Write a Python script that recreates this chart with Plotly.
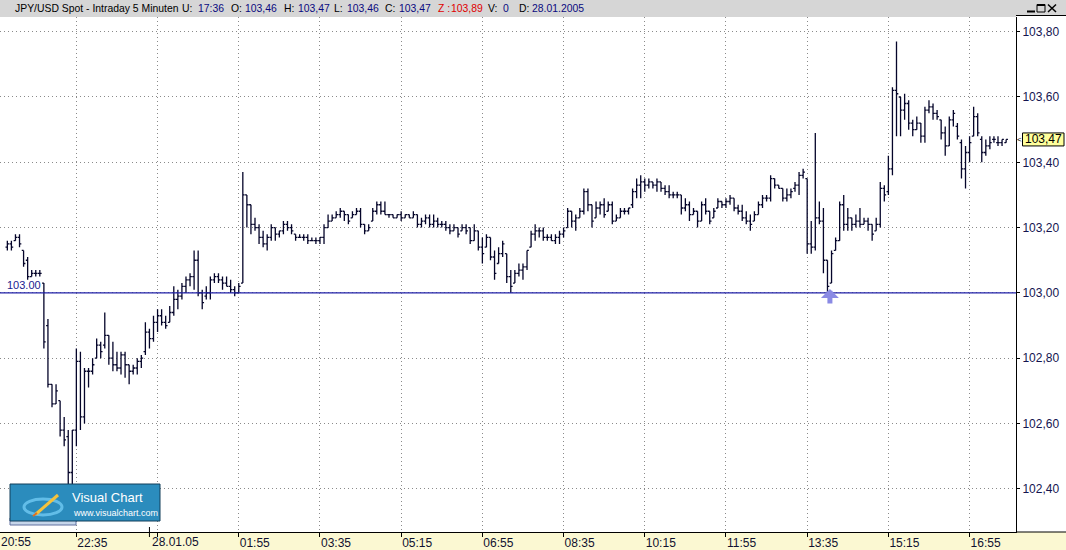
import plotly.graph_objects as go
import pandas as pd

# ---------------- data ----------------
open_ = [
    103.14, 103.15, 103.16, 103.17, 103.13, 103.10, 103.05, 103.06, 103.06, 103.03,
    102.90, 102.72, 102.66, 102.67, 102.58, 102.56, 102.45, 102.58, 102.79, 102.62,
    102.76, 102.76, 102.80, 102.84, 102.84, 102.87, 102.80, 102.78, 102.77, 102.81,
    102.78, 102.76, 102.77, 102.79, 102.82, 102.88, 102.86, 102.91, 102.93, 102.91,
    102.91, 102.94, 102.98, 102.99, 103.02, 103.04, 103.05, 103.10, 103.00, 102.99,
    103.00, 103.04, 103.05, 103.04, 103.03, 103.02, 103.01, 103.00, 103.03, 103.30,
    103.27, 103.21, 103.20, 103.17, 103.15, 103.17, 103.20, 103.18, 103.19, 103.21,
    103.20, 103.18, 103.17, 103.17, 103.17, 103.16, 103.16, 103.16, 103.17, 103.20,
    103.22, 103.23, 103.24, 103.25, 103.24, 103.23, 103.24, 103.25, 103.21, 103.19,
    103.22, 103.25, 103.27, 103.25, 103.24, 103.24, 103.23, 103.24, 103.23, 103.24,
    103.23, 103.24, 103.21, 103.22, 103.23, 103.21, 103.22, 103.21, 103.21, 103.20,
    103.19, 103.20, 103.19, 103.20, 103.20, 103.16, 103.19, 103.14, 103.14, 103.17,
    103.11, 103.09, 103.12, 103.12, 103.05, 103.03, 103.06, 103.07, 103.08, 103.14,
    103.18, 103.19, 103.19, 103.17, 103.17, 103.16, 103.17, 103.18, 103.20, 103.25,
    103.22, 103.23, 103.25, 103.31, 103.27, 103.23, 103.26, 103.27, 103.25, 103.27,
    103.22, 103.23, 103.25, 103.25, 103.27, 103.31, 103.33, 103.34, 103.33, 103.34,
    103.33, 103.34, 103.32, 103.31, 103.30, 103.30, 103.30, 103.26, 103.27, 103.24,
    103.25, 103.22, 103.27, 103.25, 103.23, 103.26, 103.28, 103.27, 103.28, 103.29,
    103.26, 103.25, 103.23, 103.22, 103.22, 103.24, 103.27, 103.29, 103.29, 103.35,
    103.33, 103.32, 103.29, 103.30, 103.32, 103.33, 103.36, 103.35, 103.15, 103.14,
    103.23, 103.22, 103.10, 103.03, 103.13, 103.16, 103.27, 103.21, 103.23, 103.21,
    103.22, 103.21, 103.22, 103.21, 103.19, 103.21, 103.32, 103.31, 103.38, 103.62,
    103.60, 103.56, 103.58, 103.52, 103.50, 103.52, 103.48, 103.56, 103.57, 103.55,
    103.53, 103.49, 103.45, 103.53, 103.51, 103.46, 103.38, 103.43, 103.48, 103.54,
    103.47, 103.43, 103.45, 103.47, 103.46, 103.46, 103.46,
]
high = [
    103.16, 103.16, 103.18, 103.18, 103.13, 103.11, 103.07, 103.07, 103.07, 103.03,
    102.92, 102.72, 102.72, 102.67, 102.62, 102.58, 102.58, 102.83, 102.82, 102.77,
    102.77, 102.80, 102.86, 102.85, 102.94, 102.87, 102.85, 102.82, 102.82, 102.82,
    102.78, 102.78, 102.80, 102.81, 102.91, 102.89, 102.93, 102.95, 102.95, 102.93,
    102.96, 103.02, 103.01, 103.03, 103.05, 103.06, 103.13, 103.13, 103.01, 103.02,
    103.05, 103.06, 103.06, 103.05, 103.05, 103.04, 103.02, 103.03, 103.37, 103.30,
    103.27, 103.23, 103.21, 103.19, 103.18, 103.21, 103.20, 103.19, 103.22, 103.22,
    103.21, 103.18, 103.18, 103.18, 103.18, 103.17, 103.17, 103.17, 103.21, 103.24,
    103.24, 103.25, 103.26, 103.25, 103.24, 103.25, 103.26, 103.26, 103.21, 103.21,
    103.26, 103.28, 103.28, 103.28, 103.24, 103.24, 103.24, 103.25, 103.24, 103.24,
    103.25, 103.24, 103.23, 103.24, 103.24, 103.24, 103.23, 103.22, 103.22, 103.21,
    103.21, 103.20, 103.21, 103.21, 103.20, 103.21, 103.19, 103.17, 103.18, 103.17,
    103.13, 103.14, 103.16, 103.12, 103.07, 103.07, 103.09, 103.09, 103.13, 103.19,
    103.21, 103.20, 103.20, 103.18, 103.18, 103.18, 103.19, 103.20, 103.26, 103.25,
    103.24, 103.26, 103.32, 103.32, 103.27, 103.28, 103.28, 103.29, 103.28, 103.28,
    103.24, 103.26, 103.26, 103.26, 103.32, 103.35, 103.36, 103.35, 103.35, 103.34,
    103.35, 103.34, 103.33, 103.33, 103.31, 103.31, 103.30, 103.29, 103.28, 103.26,
    103.25, 103.28, 103.29, 103.25, 103.26, 103.29, 103.28, 103.29, 103.30, 103.29,
    103.27, 103.27, 103.25, 103.24, 103.25, 103.28, 103.30, 103.30, 103.36, 103.35,
    103.33, 103.32, 103.32, 103.32, 103.34, 103.37, 103.38, 103.35, 103.22, 103.49,
    103.28, 103.26, 103.10, 103.13, 103.17, 103.28, 103.30, 103.26, 103.23, 103.24,
    103.26, 103.23, 103.23, 103.21, 103.23, 103.34, 103.33, 103.42, 103.63, 103.77,
    103.60, 103.61, 103.59, 103.53, 103.54, 103.52, 103.57, 103.59, 103.58, 103.56,
    103.53, 103.51, 103.54, 103.56, 103.52, 103.47, 103.45, 103.48, 103.57, 103.55,
    103.48, 103.47, 103.48, 103.48, 103.48, 103.47, 103.47,
]
low = [
    103.13, 103.13, 103.16, 103.14, 103.08, 103.04, 103.05, 103.05, 103.05, 102.83,
    102.71, 102.65, 102.66, 102.56, 102.53, 102.40, 102.38, 102.53, 102.58, 102.60,
    102.71, 102.75, 102.80, 102.80, 102.83, 102.78, 102.76, 102.76, 102.75, 102.74,
    102.72, 102.75, 102.75, 102.77, 102.81, 102.83, 102.85, 102.88, 102.90, 102.89,
    102.91, 102.93, 102.95, 102.98, 103.00, 103.02, 103.01, 102.99, 102.95, 102.98,
    102.98, 103.03, 103.03, 103.01, 103.02, 103.00, 102.99, 103.00, 103.03, 103.20,
    103.18, 103.19, 103.15, 103.14, 103.13, 103.16, 103.16, 103.17, 103.18, 103.19,
    103.18, 103.16, 103.17, 103.16, 103.15, 103.16, 103.15, 103.15, 103.15, 103.20,
    103.22, 103.23, 103.23, 103.22, 103.21, 103.23, 103.24, 103.20, 103.18, 103.19,
    103.22, 103.24, 103.24, 103.24, 103.23, 103.23, 103.23, 103.22, 103.23, 103.23,
    103.23, 103.20, 103.20, 103.21, 103.20, 103.20, 103.20, 103.20, 103.19, 103.18,
    103.19, 103.17, 103.19, 103.18, 103.15, 103.16, 103.13, 103.09, 103.14, 103.10,
    103.04, 103.09, 103.11, 103.03, 103.00, 103.03, 103.05, 103.04, 103.07, 103.14,
    103.16, 103.17, 103.16, 103.16, 103.16, 103.15, 103.15, 103.17, 103.20, 103.20,
    103.19, 103.23, 103.24, 103.25, 103.20, 103.23, 103.24, 103.23, 103.25, 103.21,
    103.22, 103.23, 103.24, 103.24, 103.26, 103.29, 103.29, 103.31, 103.32, 103.32,
    103.31, 103.31, 103.30, 103.29, 103.29, 103.29, 103.24, 103.25, 103.22, 103.24,
    103.20, 103.22, 103.24, 103.21, 103.23, 103.26, 103.26, 103.26, 103.27, 103.25,
    103.24, 103.22, 103.21, 103.19, 103.22, 103.24, 103.26, 103.28, 103.28, 103.32,
    103.32, 103.28, 103.28, 103.29, 103.31, 103.30, 103.35, 103.12, 103.12, 103.13,
    103.21, 103.06, 103.00, 103.03, 103.13, 103.16, 103.19, 103.19, 103.19, 103.20,
    103.20, 103.21, 103.19, 103.16, 103.19, 103.20, 103.28, 103.30, 103.36, 103.48,
    103.48, 103.53, 103.50, 103.48, 103.50, 103.46, 103.46, 103.55, 103.53, 103.53,
    103.47, 103.42, 103.45, 103.51, 103.47, 103.35, 103.32, 103.40, 103.48, 103.48,
    103.40, 103.42, 103.44, 103.46, 103.45, 103.45, 103.46,
]
close = [
    103.15, 103.14, 103.17, 103.15, 103.09, 103.05, 103.06, 103.06, 103.06, 102.85,
    102.72, 102.66, 102.70, 102.58, 102.55, 102.45, 102.58, 102.79, 102.62, 102.76,
    102.76, 102.78, 102.84, 102.82, 102.87, 102.80, 102.78, 102.77, 102.81, 102.78,
    102.76, 102.77, 102.79, 102.80, 102.88, 102.86, 102.91, 102.93, 102.91, 102.90,
    102.94, 102.98, 102.99, 103.02, 103.04, 103.05, 103.10, 103.00, 102.97, 103.00,
    103.04, 103.05, 103.04, 103.03, 103.02, 103.01, 103.00, 103.02, 103.30, 103.27,
    103.21, 103.20, 103.17, 103.15, 103.17, 103.20, 103.18, 103.19, 103.21, 103.20,
    103.19, 103.17, 103.17, 103.17, 103.16, 103.16, 103.16, 103.17, 103.20, 103.22,
    103.23, 103.24, 103.25, 103.24, 103.22, 103.24, 103.25, 103.21, 103.19, 103.20,
    103.25, 103.27, 103.25, 103.24, 103.24, 103.23, 103.24, 103.23, 103.24, 103.23,
    103.24, 103.21, 103.22, 103.23, 103.21, 103.22, 103.21, 103.21, 103.20, 103.19,
    103.20, 103.18, 103.20, 103.19, 103.16, 103.19, 103.14, 103.12, 103.17, 103.11,
    103.06, 103.12, 103.15, 103.05, 103.02, 103.06, 103.07, 103.08, 103.13, 103.18,
    103.19, 103.19, 103.17, 103.17, 103.16, 103.17, 103.18, 103.19, 103.25, 103.22,
    103.23, 103.25, 103.31, 103.27, 103.22, 103.26, 103.27, 103.24, 103.27, 103.22,
    103.23, 103.25, 103.25, 103.26, 103.31, 103.33, 103.34, 103.33, 103.34, 103.33,
    103.34, 103.32, 103.31, 103.30, 103.30, 103.30, 103.26, 103.27, 103.24, 103.25,
    103.22, 103.27, 103.25, 103.22, 103.25, 103.28, 103.27, 103.28, 103.29, 103.26,
    103.25, 103.23, 103.22, 103.21, 103.24, 103.27, 103.29, 103.29, 103.35, 103.33,
    103.32, 103.29, 103.30, 103.31, 103.33, 103.36, 103.37, 103.15, 103.14, 103.23,
    103.22, 103.10, 103.02, 103.12, 103.16, 103.27, 103.21, 103.23, 103.21, 103.22,
    103.21, 103.22, 103.21, 103.18, 103.21, 103.32, 103.30, 103.38, 103.62, 103.61,
    103.56, 103.58, 103.52, 103.50, 103.52, 103.48, 103.56, 103.57, 103.55, 103.54,
    103.49, 103.45, 103.53, 103.55, 103.48, 103.38, 103.43, 103.46, 103.54, 103.49,
    103.43, 103.45, 103.46, 103.47, 103.46, 103.47, 103.47,
]

first_bar = "2005-01-27 21:10"
bar_times = pd.date_range(first_bar, periods=len(close), freq="5min")

# time axis ticks
grid_times = ["2005-01-27 22:35", "2005-01-28 00:15", "2005-01-28 01:55",
              "2005-01-28 03:35", "2005-01-28 05:15", "2005-01-28 06:55",
              "2005-01-28 08:35", "2005-01-28 10:15", "2005-01-28 11:55",
              "2005-01-28 13:35", "2005-01-28 15:15", "2005-01-28 16:55"]
grid_labels = ["22:35", "", "01:55", "03:35", "05:15", "06:55", "08:35",
               "10:15", "11:55", "13:35", "15:15", "16:55"]
date_tick = "2005-01-28 00:05"
date_label = "28.01.05"
first_label = "20:55"

price_ticks = [102.40, 102.60, 102.80, 103.00, 103.20, 103.40, 103.60, 103.80]
ref_level = 103.00
signal_time = "2005-01-28 14:03"
signal_price = 103.012

header_name = "JPY/USD Spot - Intraday 5 Minuten"
header_time = "17:36"
header_z = "103,89"
header_v = "0"
header_date = "28.01.2005"

# ---------------- geometry ----------------
W, H = 1066, 550
ML, MR, MT, MB = 0, 50, 17, 18
PW = W - ML - MR
PH = H - MT - MB


def px(x):
    return (x - ML) / PW


def py(y):
    return (H - MB - y) / PH


FONT = "Liberation Sans, Arial, sans-serif"
BAR = "#05052a"
NAVY = "#0a0a80"
GRID = "#8a8a8a"

x_start = pd.Timestamp(first_bar) - pd.Timedelta(seconds=542)
x_end = pd.Timestamp(first_bar) + pd.Timedelta(seconds=74530)

fig = go.Figure()
fig.add_trace(go.Ohlc(
    x=bar_times, open=open_, high=high, low=low, close=close,
    increasing=dict(line=dict(color=BAR, width=1.3)),
    decreasing=dict(line=dict(color=BAR, width=1.3)),
    tickwidth=0.45, hoverinfo="skip", showlegend=False,
))

fmt = lambda v: f"{v:.2f}".replace(".", ",")

shapes = [
    # title bar
    dict(type="rect", xref="paper", yref="paper", x0=px(0), x1=px(W), y0=py(17), y1=py(0),
         fillcolor="#d6d6d6", line=dict(width=0), layer="below"),
    # right axis panel
    dict(type="rect", xref="paper", yref="paper", x0=px(1016), x1=px(W), y0=py(532), y1=py(15),
         fillcolor="white", line=dict(width=0), layer="below"),
    dict(type="line", xref="paper", yref="paper", x0=px(1016), x1=px(W), y0=py(15.5), y1=py(15.5),
         line=dict(color="black", width=1)),
    dict(type="line", xref="paper", yref="paper", x0=px(1016), x1=px(W), y0=py(532), y1=py(532),
         line=dict(color="black", width=1)),
    # reference level line
    dict(type="line", xref="paper", yref="y", x0=0, x1=1, y0=ref_level, y1=ref_level,
         line=dict(color="#2020a8", width=1.3)),
    # date tick
    dict(type="line", xref="x", yref="paper", x0=date_tick, x1=date_tick, y0=py(537), y1=py(527),
         line=dict(color="black", width=1)),
    # logo
    dict(type="rect", xref="paper", yref="paper", x0=px(10), x1=px(76), y0=py(525), y1=py(518),
         fillcolor="#c6d6ea", line=dict(color="#6070a0", width=1)),
    dict(type="rect", xref="paper", yref="paper", x0=px(10), x1=px(160), y0=py(521), y1=py(484),
         fillcolor="#2b8cbd", line=dict(color="#123e5a", width=1)),
    dict(type="circle", xref="paper", yref="paper", x0=px(24), x1=px(62), y0=py(515), y1=py(499),
         line=dict(color="#62bde8", width=3)),
    dict(type="line", xref="paper", yref="paper", x0=px(36), x1=px(58), y0=py(514), y1=py(495),
         line=dict(color="#f4c23c", width=3)),
    dict(type="line", xref="paper", yref="paper", x0=px(33), x1=px(37), y0=py(516), y1=py(513),
         line=dict(color="#e07020", width=2)),
    # price box
    dict(type="rect", xref="paper", yref="y", x0=px(1022.5), x1=px(1064),
         ysizemode="pixel", yanchor=close[-1], y0=-6.5, y1=6.5,
         fillcolor="#ffff9c", line=dict(color="black", width=1)),
    # window buttons
    dict(type="line", xref="paper", yref="paper", x0=px(1027), x1=px(1035), y0=py(11.5), y1=py(11.5),
         line=dict(color="black", width=2)),
    dict(type="rect", xref="paper", yref="paper", x0=px(1037), x1=px(1045), y0=py(12), y1=py(4.5),
         line=dict(color="black", width=1)),
    dict(type="line", xref="paper", yref="paper", x0=px(1037), x1=px(1045), y0=py(5), y1=py(5),
         line=dict(color="black", width=2)),
    dict(type="line", xref="paper", yref="paper", x0=px(1048), x1=px(1056), y0=py(4.5), y1=py(12),
         line=dict(color="black", width=1.5)),
    dict(type="line", xref="paper", yref="paper", x0=px(1048), x1=px(1056), y0=py(12), y1=py(4.5),
         line=dict(color="black", width=1.5)),
]

annotations = []


def txt(text, x, y, size=10.4, color="black", xanchor="left", xref="paper", yref="paper", **kw):
    annotations.append(dict(text=text, x=x, y=y, xref=xref, yref=yref, xanchor=xanchor,
                            yanchor="middle", showarrow=False,
                            font=dict(family=FONT, size=size, color=color), **kw))


# header
hy = py(8.5)
txt(header_name, px(13), hy)
txt("U:", px(179.5), hy)
txt(header_time, px(196), hy, color=NAVY)
txt("O:", px(229), hy)
txt(fmt(open_[-1]), px(242.5), hy, color=NAVY)
txt("H:", px(281.5), hy)
txt(fmt(high[-1]), px(295.5), hy, color=NAVY)
txt("L:", px(332), hy)
txt(fmt(low[-1]), px(345), hy, color=NAVY)
txt("C:", px(383), hy)
txt(fmt(close[-1]), px(396.5), hy, color=NAVY)
txt("Z :", px(435.5), hy, color="#e00000")
txt(header_z, px(449), hy, color="#e00000")
txt("V:", px(485.5), hy)
txt(header_v, px(501), hy, color=NAVY)
txt("D:", px(516.5), hy)
txt(header_date, px(530), hy, color=NAVY)

# axis extras
txt(first_label, px(-1.5), py(542), size=12, color="#101030")
txt(date_label, date_tick, py(542), size=12, color="#101030", xref="x", xshift=1)
txt(f"{ref_level:.2f}", px(5), ref_level, size=11, color="#202090", yref="y", yshift=8)

# price box text
txt(fmt(close[-1]), px(1043.5), close[-1], size=12, color="black", xanchor="center", yref="y")
txt("<", px(1019.5), close[-1], size=8, color="black", xanchor="center", yref="y")

# logo text
txt("Visual Chart", px(70), py(497), size=13, color="white")
txt("www.visualchart.com", px(70.5), py(512.5), size=9, color="white")

# signal arrow
annotations.append(dict(x=signal_time, y=signal_price, xref="x", yref="y", text="",
                        showarrow=True, arrowhead=1, arrowsize=0.6, arrowwidth=5,
                        arrowcolor="#8a8ae4", ax=0, ay=16, standoff=0))

fig.update_layout(
    width=W, height=H,
    margin=dict(l=ML, r=MR, t=MT, b=MB, pad=0),
    paper_bgcolor="#fbf8d2", plot_bgcolor="white",
    showlegend=False, separators=",.",
    shapes=shapes, annotations=annotations,
    xaxis=dict(
        type="date", range=[x_start, x_end], rangeslider=dict(visible=False),
        tickmode="array", tickvals=grid_times, ticktext=grid_labels,
        ticks="outside", ticklen=4, tickcolor="black", tickwidth=1,
        ticklabelposition="outside right",
        showgrid=True, gridcolor=GRID, griddash="1px,3px", gridwidth=1,
        showline=True, linecolor="black", linewidth=1, zeroline=False,
        tickfont=dict(family=FONT, size=12, color="#101030"), fixedrange=True,
    ),
    yaxis=dict(
        side="right", range=[102.2677, 103.845],
        tickmode="array", tickvals=price_ticks, tickformat=".2f",
        ticks="outside", ticklen=3, tickcolor="black",
        showgrid=True, gridcolor=GRID, griddash="1px,3px", gridwidth=1,
        showline=True, linecolor="black", linewidth=1, zeroline=False,
        tickfont=dict(family=FONT, size=12, color="#141450"), fixedrange=True,
    ),
)

fig.write_html(
    "out.html",
    config={"displayModeBar": False},
    post_script="document.body.style.margin='0px';document.body.style.overflow='hidden';",
)
